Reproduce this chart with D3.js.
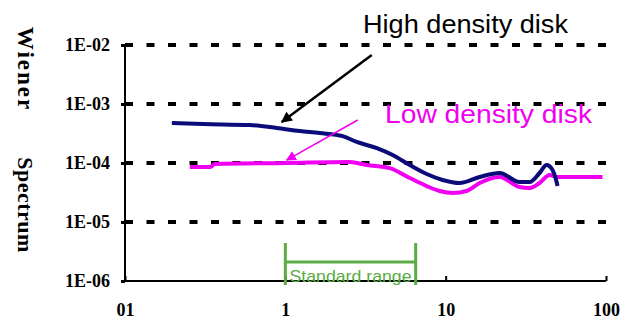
<!DOCTYPE html>
<html>
<head>
<meta charset="utf-8">
<script src="https://cdn.jsdelivr.net/npm/d3@7"></script>
<style>
  body { margin: 0; background: #fff; }
  svg { display: block; }
</style>
</head>
<body>
<div id="viz"></div>
<script>
// axis ticks
const xTicks = [0.1, 1, 10, 100];
const xTickLabels = ["01", "1", "10", "100"];
const yTicks = [1e-2, 1e-3, 1e-4, 1e-5, 1e-6];
const yTickLabels = ["1E-02", "1E-03", "1E-04", "1E-05", "1E-06"];

// high density disk (navy)
const highFreq = [0.196, 0.306, 0.601, 0.885, 1.23, 1.64, 2.28, 2.79, 3.72, 4.67, 5.97, 7.62, 9.57, 12.2, 16.3, 21.7, 28.9, 33.4, 38.5, 42.6, 46.4, 49.2, 49.9];
const highVal = [4.77e-4, 4.58e-4, 4.4e-4, 3.92e-4, 3.48e-4, 3.22e-4, 2.85e-4, 2.27e-4, 1.79e-4, 1.37e-4, 9.25e-5, 6.5e-5, 5.15e-5, 4.58e-5, 5.79e-5, 6.77e-5, 4.76e-5, 4.76e-5, 6.77e-5, 9.25e-5, 7.61e-5, 4.76e-5, 4.07e-5];

// low density disk (magenta)
const lowFreq = [0.254, 0.339, 0.364, 1.02, 2.52, 3.22, 4.48, 5.97, 7.62, 9.18, 11.1, 13.5, 16.3, 21.7, 28.9, 33.4, 38.5, 44.5, 49.2, 95.1];
const lowVal = [8.55e-5, 8.55e-5, 9.62e-5, 1.0e-4, 1.04e-4, 9.25e-5, 8.2e-5, 5.57e-5, 4.07e-5, 3.35e-5, 3.1e-5, 3.35e-5, 4.58e-5, 5.79e-5, 3.92e-5, 3.77e-5, 4.58e-5, 6.26e-5, 5.79e-5, 5.79e-5];

// standard range bracket
const rangeStart = 1, rangeEnd = 6.5;

// annotation arrows [from, to] in data units
const highArrow = [[3.46, 6.78e-3], [0.95, 4.95e-4]];
const lowArrow = [[2.83, 5.36e-4], [1.02, 1.12e-4]];

let width = 622, height = 320;
let navy = "#0b0b7a", magenta = "#f000f0", green = "#5aac44";

let x = d3.scaleLog().domain([0.1, 100]).range([125, 606]);
let y = d3.scaleLog().domain([1e-6, 1e-2]).range([281, 45]);

let svg = d3.select('#viz').append('svg')
    .attr('width', width)
    .attr('height', height);

let defs = svg.append('defs');
function marker(id, color, w, h) {
  defs.append('marker')
      .attr('id', id)
      .attr('viewBox', '0 0 10 10')
      .attr('refX', 9).attr('refY', 5)
      .attr('markerUnits', 'userSpaceOnUse')
      .attr('markerWidth', w).attr('markerHeight', h)
      .attr('orient', 'auto')
    .append('path')
      .attr('d', 'M0,0 L10,5 L0,10 z')
      .attr('fill', color);
}
marker('arrowBlack', '#000', 14, 11);
marker('arrowMag', magenta, 12, 10);

// dotted grid lines
svg.append('g')
  .selectAll('line').data(yTicks.slice(0, 4))
  .enter().append('line')
    .attr('x1', x(0.1)).attr('x2', x(100))
    .attr('y1', d => y(d)).attr('y2', d => y(d))
    .attr('stroke', '#000')
    .attr('stroke-width', 4)
    .attr('stroke-dasharray', '8,13.5');

// y axis
let yAxis = d3.axisLeft(y)
    .tickValues(yTicks)
    .tickFormat((d, i) => yTickLabels[i])
    .tickSize(4)
    .tickPadding(11);
let yg = svg.append('g')
    .attr('transform', 'translate(' + x(0.1) + ',0)')
    .call(yAxis);
yg.select('.domain').attr('stroke-width', 2).attr('d', 'M0,' + y(1e-2) + 'V' + y(1e-6));
yg.selectAll('.tick line').attr('stroke-width', 3);
yg.selectAll('text')
    .attr('font-family', '"Liberation Serif", serif')
    .attr('font-weight', 'bold')
    .attr('font-size', 18)
    .attr('fill', '#000');

// x axis
let xAxis = d3.axisBottom(x)
    .tickValues(xTicks)
    .tickFormat((d, i) => xTickLabels[i])
    .tickSize(-5)
    .tickPadding(22);
let xg = svg.append('g')
    .attr('transform', 'translate(0,' + y(1e-6) + ')')
    .call(xAxis);
xg.select('.domain').attr('stroke-width', 2).attr('d', 'M' + x(0.1) + ',0H' + x(100));
xg.selectAll('.tick line').attr('stroke-width', 2);
xg.selectAll('text')
    .attr('font-family', '"Liberation Serif", serif')
    .attr('font-weight', 'bold')
    .attr('font-size', 18)
    .attr('fill', '#000');

// y axis title
svg.append('text')
    .attr('transform', 'translate(18,69) rotate(90)')
    .attr('text-anchor', 'middle')
    .attr('font-family', '"Liberation Serif", serif')
    .attr('font-weight', 'bold')
    .attr('font-size', 23)
    .attr('letter-spacing', 2)
    .text('Wiener');
svg.append('text')
    .attr('transform', 'translate(18,205) rotate(90)')
    .attr('text-anchor', 'middle')
    .attr('font-family', '"Liberation Serif", serif')
    .attr('font-weight', 'bold')
    .attr('font-size', 22)
    .attr('letter-spacing', 0.5)
    .text('Spectrum');

// curves
let line = d3.line()
    .x(d => x(d[0]))
    .y(d => y(d[1]))
    .curve(d3.curveMonotoneX);

svg.append('path')
    .datum(lowFreq.map((f, i) => [f, lowVal[i]]))
    .attr('d', line)
    .attr('fill', 'none')
    .attr('stroke', magenta)
    .attr('stroke-width', 4);

svg.append('path')
    .datum(highFreq.map((f, i) => [f, highVal[i]]))
    .attr('d', line)
    .attr('fill', 'none')
    .attr('stroke', navy)
    .attr('stroke-width', 4);

// arrows
svg.append('line')
    .attr('x1', x(highArrow[0][0])).attr('y1', y(highArrow[0][1]))
    .attr('x2', x(highArrow[1][0])).attr('y2', y(highArrow[1][1]))
    .attr('stroke', '#000').attr('stroke-width', 2.5)
    .attr('marker-end', 'url(#arrowBlack)');
svg.append('line')
    .attr('x1', x(lowArrow[0][0])).attr('y1', y(lowArrow[0][1]))
    .attr('x2', x(lowArrow[1][0])).attr('y2', y(lowArrow[1][1]))
    .attr('stroke', magenta).attr('stroke-width', 1.5)
    .attr('marker-end', 'url(#arrowMag)');

// series labels
svg.append('text')
    .attr('x', 363).attr('y', 33)
    .attr('font-family', '"Liberation Sans", Arial, sans-serif')
    .attr('font-size', 25)
    .attr('textLength', 205)
    .attr('lengthAdjust', 'spacingAndGlyphs')
    .attr('fill', '#000')
    .text('High density disk');
svg.append('text')
    .attr('x', 385).attr('y', 123)
    .attr('font-family', '"Liberation Sans", Arial, sans-serif')
    .attr('font-size', 25)
    .attr('textLength', 207)
    .attr('lengthAdjust', 'spacingAndGlyphs')
    .attr('fill', magenta)
    .text('Low density disk');

// standard range bracket
let bracket = svg.append('g')
    .attr('stroke', green)
    .attr('stroke-width', 3);
bracket.append('line')
    .attr('x1', x(rangeStart)).attr('x2', x(rangeStart))
    .attr('y1', 243).attr('y2', 285);
bracket.append('line')
    .attr('x1', x(rangeEnd)).attr('x2', x(rangeEnd))
    .attr('y1', 243).attr('y2', 285);
bracket.append('line')
    .attr('x1', x(rangeStart)).attr('x2', x(rangeEnd))
    .attr('y1', 262).attr('y2', 262);
svg.append('text')
    .attr('x', (x(rangeStart) + x(rangeEnd)) / 2).attr('y', 282)
    .attr('text-anchor', 'middle')
    .attr('font-family', '"Liberation Sans", Arial, sans-serif')
    .attr('font-size', 17)
    .attr('textLength', 122)
    .attr('lengthAdjust', 'spacingAndGlyphs')
    .attr('fill', green)
    .text('Standard range');
</script>
</body>
</html>
